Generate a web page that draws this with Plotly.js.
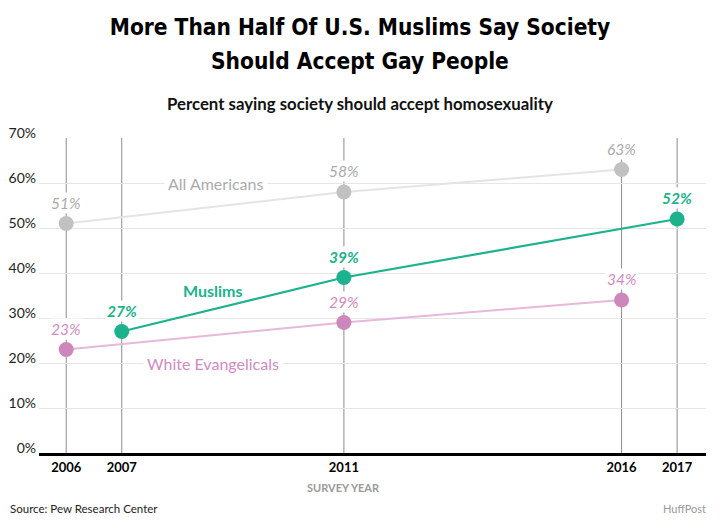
<!DOCTYPE html>
<html>
<head>
<meta charset="utf-8">
<script src="https://cdn.plot.ly/plotly-3.0.1.min.js"></script>
<style>html,body{margin:0;padding:0;background:#fff;}#chart{width:720px;height:522px;}</style>
</head>
<body>
<div id="chart"></div>
<script>
// ---- data ----
const surveyYears = [2006, 2007, 2011, 2016, 2017];
const allAmericansYears = [2006, 2011, 2016];
const allAmericansValues = [51, 58, 63];
const muslimsYears = [2007, 2011, 2017];
const muslimsValues = [27, 39, 52];
const evangelicalsYears = [2006, 2011, 2016];
const evangelicalsValues = [23, 29, 34];
const seriesNames = ["All Americans", "Muslims", "White Evangelicals"];
const yTicks = [0, 10, 20, 30, 40, 50, 60, 70];
const titleLines = ["More Than Half Of U.S. Muslims Say Society", "Should Accept Gay People"];

const BODY = "Lato, 'Source Sans Pro', 'Open Sans', sans-serif";
const TITLE = "'DejaVu Sans Condensed', 'Liberation Sans Narrow', sans-serif";
const PAGE_CENTER = (360 - 39) / 667; // page centre in paper coords

const C = {
  amLine: "#e4e4e4", amMark: "#c1c1c1", amText: "#ababab",
  muLine: "#1cb28e", muMark: "#1cb28e", muText: "#1cb28e",
  evLine: "#e8b7da", evMark: "#cc87bb", evText: "#d08bc1"
};

function series(xs, ys, lineColor, markColor, name, w) {
  return {
    x: xs, y: ys, name: name, type: "scatter", mode: "lines+markers",
    line: {color: lineColor, width: w},
    marker: {color: markColor, size: 15},
    hoverinfo: "skip", showlegend: false, cliponaxis: false
  };
}

const traces = [
  series(allAmericansYears, allAmericansValues, C.amLine, C.amMark, seriesNames[0], 2),
  series(evangelicalsYears, evangelicalsValues, C.evLine, C.evMark, seriesNames[2], 2),
  series(muslimsYears, muslimsValues, C.muLine, C.muMark, seriesNames[1], 2.2)
];

const shapes = surveyYears.map(yr => ({
  type: "line", xref: "x", yref: "paper", x0: yr, x1: yr, y0: 0, y1: 1,
  line: {color: "#8c8c8c", width: 1}, layer: "below"
}));

const annotations = [];
function valueLabels(xs, ys, color, bold) {
  xs.forEach((x, i) => {
    annotations.push({
      x: x, y: ys[i], xref: "x", yref: "y", text: ys[i] + "%", showarrow: false,
      yshift: 21, bgcolor: "#ffffff", borderpad: 1,
      font: {family: BODY, size: 15.5, color: color, style: "italic", weight: bold ? "bold" : "normal"}
    });
  });
}
valueLabels(allAmericansYears, allAmericansValues, C.amText, false);
valueLabels(evangelicalsYears, evangelicalsValues, C.evText, false);
valueLabels(muslimsYears, muslimsValues, C.muText, true);

annotations.push(
  {x: PAGE_CENTER, y: 1, xref: "paper", yref: "paper", yshift: 77, yanchor: "middle",
   text: titleLines[1], showarrow: false,
   font: {family: TITLE, size: 22.5, color: "#000", weight: "bold"}},
  {x: 2008.7, y: 60, xref: "x", yref: "y", text: seriesNames[0], showarrow: false,
   bgcolor: "#ffffff", borderpad: 3, font: {family: BODY, size: 16, color: C.amText}},
  {x: 2008.65, y: 36.2, xref: "x", yref: "y", text: seriesNames[1], showarrow: false,
   font: {family: BODY, size: 16, color: C.muText, weight: "bold"}},
  {x: 2008.65, y: 20, xref: "x", yref: "y", text: seriesNames[2], showarrow: false,
   bgcolor: "#ffffff", borderpad: 3, font: {family: BODY, size: 16, color: C.evText}},
  {x: PAGE_CENTER, y: 1, xref: "paper", yref: "paper", yshift: 35, yanchor: "middle",
   text: "Percent saying society should accept homosexuality", showarrow: false,
   font: {family: BODY, size: 16.8, color: "#111", weight: "bold"}},
  {x: 2011, y: 0, xref: "x", yref: "paper", yshift: -34, yanchor: "middle",
   text: "SURVEY YEAR", showarrow: false,
   font: {family: BODY, size: 11, color: "#9a9a9a", weight: "bold"}},
  {x: -0.0465, y: 0, xref: "paper", yref: "paper", yshift: -55, xanchor: "left", yanchor: "middle",
   text: "Source: Pew Research Center", showarrow: false,
   font: {family: BODY, size: 11.5, color: "#222"}},
  {x: 1.003, y: 0, xref: "paper", yref: "paper", yshift: -55, xanchor: "right", yanchor: "middle",
   text: "HuffPost", showarrow: false,
   font: {family: BODY, size: 11, color: "#9a9a9a"}}
);

const layout = {
  width: 720, height: 522,
  margin: {l: 39, r: 14, t: 138, b: 69},
  paper_bgcolor: "#ffffff", plot_bgcolor: "#ffffff",
  title: {
    text: titleLines[0],
    x: 0.5, xanchor: "center", xref: "container",
    y: 1 - 27 / 522, yanchor: "middle", yref: "container",
    font: {family: TITLE, size: 22.5, color: "#000", weight: "bold"}
  },
  xaxis: {
    range: [2005.51, 2017.52], tickvals: surveyYears, ticktext: surveyYears.map(String),
    showgrid: false, zeroline: false, showline: true, linecolor: "#000", linewidth: 3,
    ticks: "", tickfont: {family: BODY, size: 13, color: "#000", weight: "bold"},
    fixedrange: true
  },
  yaxis: {
    range: [0, 70], tickvals: yTicks, ticktext: yTicks.map(v => v + "%"),
    showgrid: true, gridcolor: "#e6e6e6", gridwidth: 1, zeroline: false, showline: false,
    ticks: "", ticklabelshift: -5, ticklabelstandoff: 2,
    tickfont: {family: BODY, size: 14, color: "#222"}, fixedrange: true
  },
  shapes: shapes,
  annotations: annotations,
  showlegend: false
};

Plotly.newPlot("chart", traces, layout, {staticPlot: true, displayModeBar: false});
</script>
</body>
</html>
